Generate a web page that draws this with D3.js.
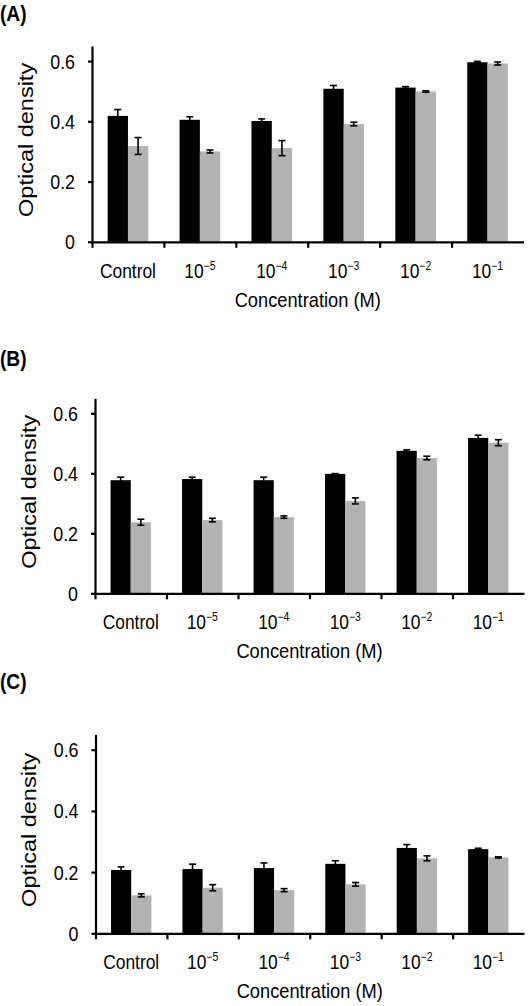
<!DOCTYPE html>
<html><head><meta charset="utf-8">
<script src="https://cdn.jsdelivr.net/npm/d3@7"></script>
<style>
html,body{margin:0;padding:0;background:#fff;}
svg{display:block;}
text{font-family:"Liberation Sans",Arial,sans-serif;fill:#000;}
</style></head>
<body>
<svg id="chart" width="528" height="1006"></svg>
<script>
// ---------------- data ----------------
const categoryBase = ["Control", "10", "10", "10", "10", "10"];
const categoryExp  = ["", "\u22125", "\u22124", "\u22123", "\u22122", "\u22121"];
const seriesNames = ["dark", "light"];
const yTicks = [0, 0.2, 0.4, 0.6];
const panelLabels = ["(A)", "(B)", "(C)"];

const darkA  = [0.418, 0.405, 0.401, 0.508, 0.512, 0.596];
const darkErrA  = [0.021, 0.010, 0.007, 0.011, 0.003, 0.003];
const lightA = [0.318, 0.300, 0.311, 0.391, 0.499, 0.592];
const lightErrA = [0.028, 0.005, 0.025, 0.006, 0.002, 0.005];

const darkB  = [0.377, 0.381, 0.377, 0.398, 0.475, 0.518];
const darkErrB  = [0.010, 0.006, 0.010, 0.001, 0.003, 0.009];
const lightB = [0.237, 0.244, 0.254, 0.308, 0.451, 0.502];
const lightErrB = [0.010, 0.006, 0.004, 0.010, 0.006, 0.010];

const darkC  = [0.207, 0.210, 0.213, 0.227, 0.279, 0.275];
const darkErrC  = [0.010, 0.016, 0.017, 0.010, 0.011, 0.003];
const lightC = [0.124, 0.149, 0.141, 0.160, 0.245, 0.248];
const lightErrC = [0.005, 0.010, 0.005, 0.006, 0.008, 0.002];

// ---------------- layout ----------------
const panels = [
  {label: panelLabels[0], dark: darkA, darkErr: darkErrA, light: lightA, lightErr: lightErrA,
   left: 92, right: 523.5, top: 46, zero: 241.8, labelY: 21, titleX: 33},
  {label: panelLabels[1], dark: darkB, darkErr: darkErrB, light: lightB, lightErr: lightErrB,
   left: 95, right: 524, top: 398.3, zero: 593.3, labelY: 365.5, titleX: 35.5},
  {label: panelLabels[2], dark: darkC, darkErr: darkErrC, light: lightC, lightErr: lightErrC,
   left: 95.5, right: 524, top: 734.4, zero: 933.3, labelY: 688.5, titleX: 35.5}
];
const colors = {dark: "#000000", light: "#b3b3b3"};
const SX = 0.87; // horizontal condensation of the original type
const svg = d3.select("#chart");

panels.forEach(p => {
  const g = svg.append("g");
  const idx = d3.range(categoryBase.length);
  const x = d3.scaleBand().domain(idx).range([p.left, p.right]).padding(0);
  const xi = d3.scaleLinear().domain([0, idx.length]).range([p.left, p.right]);
  const x1 = d3.scaleBand().domain(seriesNames).range([0, x.bandwidth()])
      .paddingInner(0).paddingOuter(0.77);
  const y = d3.scaleLinear().domain([0, 0.65]).range([p.zero, p.top]);

  const rows = [];
  idx.forEach(i => {
    rows.push({i, s: "dark", v: p.dark[i], e: p.darkErr[i]});
    rows.push({i, s: "light", v: p.light[i], e: p.lightErr[i]});
  });

  // bars
  g.selectAll("rect.bar").data(rows).join("rect")
    .attr("class", "bar")
    .attr("x", d => x(d.i) + x1(d.s))
    .attr("width", x1.bandwidth())
    .attr("y", d => y(d.v))
    .attr("height", d => y(0) - y(d.v))
    .attr("fill", d => colors[d.s]);

  // error bars
  const cap = 3.5;
  const eg = g.selectAll("g.err").data(rows).join("g").attr("class", "err")
    .attr("stroke", "#000").attr("stroke-width", 1.6).attr("fill", "none");
  eg.append("line")
    .attr("x1", d => x(d.i) + x1(d.s) + x1.bandwidth() / 2)
    .attr("x2", d => x(d.i) + x1(d.s) + x1.bandwidth() / 2)
    .attr("y1", d => y(d.v - d.e)).attr("y2", d => y(d.v + d.e));
  [-1, 1].forEach(sg => {
    eg.append("line")
      .attr("x1", d => x(d.i) + x1(d.s) + x1.bandwidth() / 2 - cap)
      .attr("x2", d => x(d.i) + x1(d.s) + x1.bandwidth() / 2 + cap)
      .attr("y1", d => y(d.v + sg * d.e)).attr("y2", d => y(d.v + sg * d.e));
  });

  // y axis
  const ya = g.append("g").attr("transform", `translate(${p.left},0)`)
    .call(d3.axisLeft(y).tickValues(yTicks).tickSize(4).tickSizeOuter(0)
      .tickFormat(d => d === 0 ? "0" : d3.format(".1f")(d)));
  ya.selectAll("path,line").attr("stroke", "#000").attr("stroke-width", 2.2);
  ya.selectAll("text").attr("font-size", 20.5).attr("x", -17 / SX).attr("dy", "0.34em")
    .attr("transform", `scale(${SX},1)`)
    .style("font-family", '"Liberation Sans",Arial,sans-serif');

  // x axis line & boundary ticks
  const xa = g.append("g").attr("transform", `translate(0,${p.zero})`)
    .call(d3.axisBottom(xi).tickValues(d3.range(idx.length)).tickSize(6).tickSizeOuter(0).tickFormat(""));
  xa.selectAll("path,line").attr("stroke", "#000").attr("stroke-width", 2.2);
  xa.selectAll("text").remove();

  // x category labels
  const xl = g.append("g").attr("transform", `translate(0,${p.zero})`)
    .call(d3.axisBottom(x).tickSize(0).tickFormat(""));
  xl.select("path").remove();
  xl.selectAll(".tick text").each(function (d) {
    const t = d3.select(this);
    t.attr("y", 36).attr("dy", 0).attr("font-size", 20)
      .attr("transform", `scale(${SX},1)`)
      .style("font-family", '"Liberation Sans",Arial,sans-serif');
    t.append("tspan").text(categoryBase[d]);
    if (categoryExp[d]) {
      t.append("tspan").attr("font-size", 12).attr("dy", -8).text(categoryExp[d]);
    }
  });

  // x title
  g.append("text")
    .attr("transform", `translate(${(p.left + p.right) / 2},${p.zero + 65}) scale(${SX},1)`)
    .attr("text-anchor", "middle").attr("font-size", 21)
    .text("Concentration (M)");

  // y title
  g.append("text")
    .attr("transform", `translate(${p.titleX},${(p.zero + p.top) / 2 - 4}) rotate(-90) scale(1,${SX})`)
    .attr("text-anchor", "middle").attr("font-size", 23.5)
    .text("Optical density");

  // panel label
  g.append("text")
    .attr("transform", `translate(0,${p.labelY}) scale(${SX},1)`)
    .attr("font-size", 22).attr("font-weight", "bold")
    .text(p.label);
});
</script>
</body></html>
